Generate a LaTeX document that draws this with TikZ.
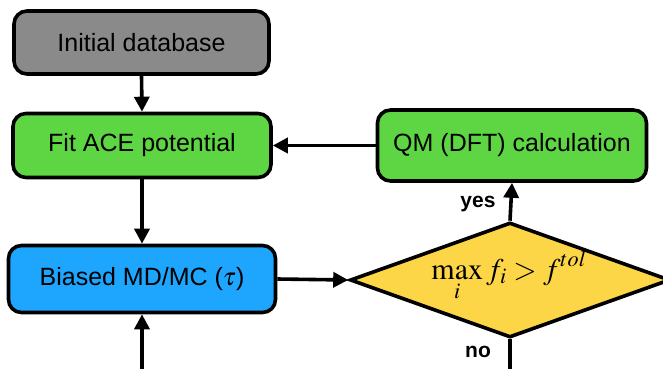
\documentclass[tikz,border=0pt]{standalone}
\usepackage{mathptmx}
\usepackage[no-math]{fontspec}
\setmainfont{Liberation Sans}
\usetikzlibrary{shapes.geometric,arrows.meta}
\definecolor{boxgray}{RGB}{138,138,138}
\definecolor{boxgreen}{RGB}{94,214,68}
\definecolor{boxblue}{RGB}{30,166,255}
\definecolor{boxyellow}{RGB}{253,214,72}
\tikzset{
  procbox/.style={draw=black, line width=3.6pt, rounded corners=13pt, inner sep=0pt,
    font=\fontsize{25}{30}\selectfont, text=black},
  decbox/.style={draw=black, line width=3.6pt, diamond, inner sep=0pt, fill=boxyellow,
    minimum width=320pt, minimum height=115pt},
  flow/.style={line width=3.6pt, -{Triangle[length=15pt,width=15pt]}},
  flowline/.style={line width=3.6pt},
  lbl/.style={font=\fontsize{21}{25}\selectfont\bfseries, inner sep=0pt}
}
\begin{document}
\begin{tikzpicture}[x=1pt,y=-1pt]
\useasboundingbox (0,0) rectangle (663,369);
\clip (0,0) rectangle (663,369);
\node[procbox, fill=boxgray, minimum width=255pt, minimum height=63pt] (init) at (141.5,42.5) {Initial database};
\node[procbox, fill=boxgreen, minimum width=258pt, minimum height=64pt] (fit) at (142,145.5) {Fit ACE potential};
\node[procbox, fill=boxgreen, minimum width=269pt, minimum height=71pt] (qm) at (512,145.5) {QM (DFT) calculation};
\node[procbox, fill=boxblue, minimum width=267pt, minimum height=67pt] (md) at (142,279) {Biased MD/MC ($\tau$)};
\node[decbox] (dec) at (510,280) {};
\node[inner sep=0pt, anchor=base, font=\fontsize{30}{34}\selectfont] (form) at (509,279) {$\displaystyle\max_i f_i > f^{tol}$};
\coordinate (mdin) at (142,369);
\coordinate (decout) at (510,369);
\draw[flow] (init.south) -- (fit.north);
\draw[flow] (fit.south) -- (md.north);
\draw[flow] (qm.west) -- (fit.east);
\draw[flow] (md.east) -- (dec.west);
\draw[flow] (dec.north) -- (qm.south);
\draw[flow] (mdin) -- (md.south);
\draw[flowline] (dec.south) -- (decout);
\node[lbl] (yes) at (478,204) {yes};
\node[lbl] (no) at (478,352) {no};
\end{tikzpicture}
\end{document}
